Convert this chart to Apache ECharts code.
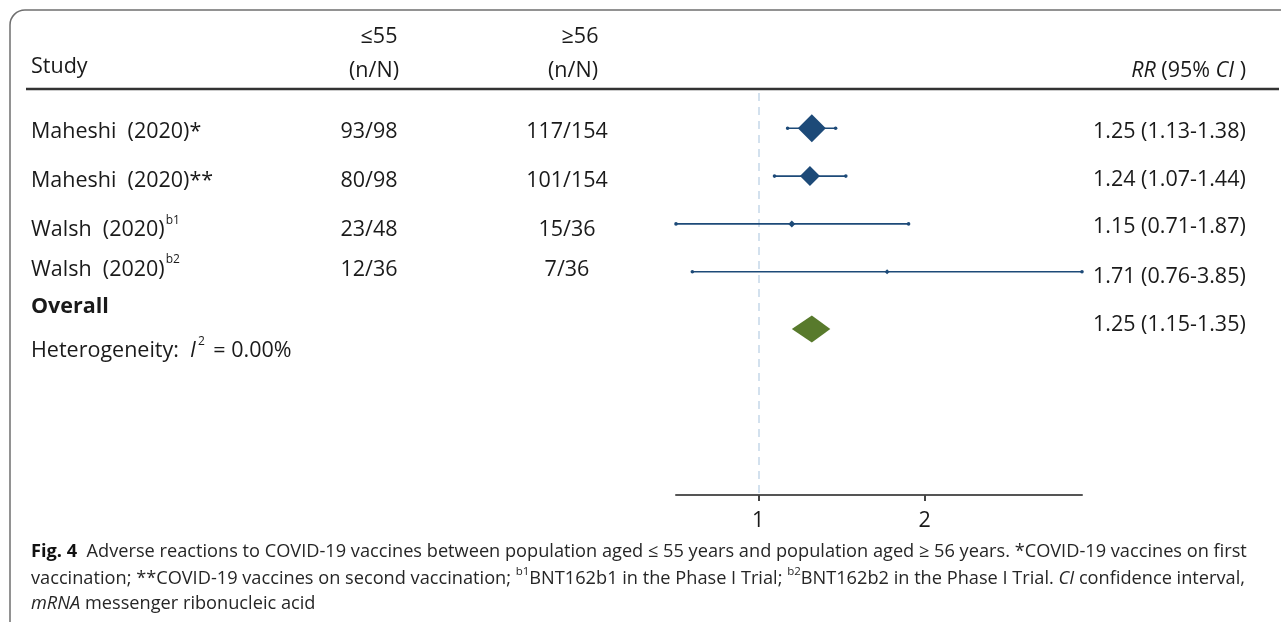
<!DOCTYPE html>
<html>
<head>
<meta charset="utf-8">
<script src="https://cdn.jsdelivr.net/npm/echarts@6/dist/echarts.min.js"></script>
<style>
  html, body { margin: 0; padding: 0; background: #ffffff; }
  #chart { width: 1281px; height: 622px; }
</style>
</head>
<body>
<div id="chart"></div>
<script>
// ---- Data ----
const studyNames = ['Maheshi  (2020)*', 'Maheshi  (2020)**', 'Walsh  (2020){sup|b1}', 'Walsh  (2020){sup|b2}'];
const countsUpTo55 = ['93/98', '80/98', '23/48', '12/36'];
const countsFrom56 = ['117/154', '101/154', '15/36', '7/36'];
const riskRatio = [1.25, 1.24, 1.15, 1.71];
const ciLower = [1.13, 1.07, 0.71, 0.76];
const ciUpper = [1.38, 1.44, 1.87, 3.85];
const overallRR = 1.25;
const overallLower = 1.15;
const overallUpper = 1.35;
const heterogeneityI2 = 0.00;
const axisTickValues = [1, 2];

// ---- Layout / style constants ----
const FONT = '"Open Sans", sans-serif';
const CAPTION_FONT = '"Open Sans", sans-serif';
const FS = 21.5;
const CAPTION_FS = 18.2;
const TEXT = '#1a1a1a';
const CAPTION_TEXT = '#262626';
const BLUE = '#1d4a78';
const GREEN = '#587a2c';
const markerSizes = [28, 20, 7, 5];
const markerRows = [0, 1, 2, 3];
const overallRow = 4.2;
const leftTextRows = [0.08, 1.1, 2.13, 2.96];
const rightTextRows = [0.08, 1.08, 2.06, 3.11];
const overallLabelRow = 3.74;
const overallTextRow = 4.11;
const heteroRow = 4.66;
const COL_STUDY = 31, COL_YOUNG = 369, COL_OLD = 567, COL_RR = 1093;

const fmt = v => v.toFixed(2);

const supRich = { sup: { fontSize: 12, fontFamily: FONT, verticalAlign: 'top', fill: TEXT, padding: [0, 0, 0, 1] } };

function tableText(x, y, text, align, extra) {
  return {
    type: 'text', x: x, y: y,
    style: Object.assign({
      text: text, fontFamily: FONT, fontSize: FS, fill: TEXT, lineHeight: 32,
      align: align, verticalAlign: 'middle', rich: supRich
    }, extra || {})
  };
}

const chart = echarts.init(document.getElementById('chart'), null, { renderer: 'canvas' });

const option = {
  animation: false,
  backgroundColor: '#ffffff',
  grid: { left: 676, right: 199, top: 93, bottom: 127 },
  xAxis: {
    type: 'log',
    logBase: Math.E,
    position: 'bottom',
    min: Math.min.apply(null, ciLower),
    max: Math.max.apply(null, ciUpper),
    splitLine: { show: false },
    axisLine: { onZero: false, lineStyle: { color: '#555555', width: 2 } },
    axisTick: { length: 6, customValues: axisTickValues, lineStyle: { color: '#444444', width: 2 } },
    axisLabel: {
      customValues: axisTickValues, fontSize: FS, fontFamily: FONT, color: TEXT, margin: 15,
      formatter: v => String(Math.round(v))
    }
  },
  yAxis: {
    type: 'value', inverse: true, min: -0.738, max: 7.67, show: false
  },
  series: [
    {
      // confidence interval whiskers with end dots
      type: 'custom',
      name: 'ci',
      clip: false,
      z: 3,
      data: riskRatio.map((v, i) => [ciLower[i], ciUpper[i], markerRows[i]]),
      renderItem: function (params, api) {
        const a = api.coord([api.value(0), api.value(2)]);
        const b = api.coord([api.value(1), api.value(2)]);
        return {
          type: 'group',
          children: [
            { type: 'line', shape: { x1: a[0], y1: a[1], x2: b[0], y2: b[1] }, style: { stroke: BLUE, lineWidth: 1.6 } },
            { type: 'circle', shape: { cx: a[0], cy: a[1], r: 1.8 }, style: { fill: BLUE } },
            { type: 'circle', shape: { cx: b[0], cy: b[1], r: 1.8 }, style: { fill: BLUE } }
          ]
        };
      }
    },
    {
      // point estimates
      type: 'scatter',
      name: 'estimate',
      z: 4,
      symbol: 'diamond',
      symbolSize: (val, params) => markerSizes[params.dataIndex],
      itemStyle: { color: BLUE, opacity: 1 },
      data: riskRatio.map((v, i) => [v, markerRows[i]]),
      markLine: {
        silent: true,
        symbol: 'none',
        z: 1,
        label: { show: false },
        lineStyle: { type: [8, 6], color: '#d3e1ee', width: 2 },
        data: [{ xAxis: 1 }]
      }
    },
    {
      // pooled estimate diamond
      type: 'custom',
      name: 'overall',
      clip: false,
      z: 4,
      data: [[overallLower, overallRR, overallUpper, overallRow]],
      renderItem: function (params, api) {
        const lo = api.coord([api.value(0), api.value(3)]);
        const mid = api.coord([api.value(1), api.value(3)]);
        const hi = api.coord([api.value(2), api.value(3)]);
        const h = 13.5;
        return {
          type: 'polygon',
          shape: { points: [[lo[0], lo[1]], [mid[0], mid[1] - h], [hi[0], hi[1]], [mid[0], mid[1] + h]] },
          style: { fill: GREEN }
        };
      }
    },
    {
      // study table text
      type: 'custom',
      name: 'table',
      clip: false,
      silent: true,
      data: studyNames.map((s, i) => [1, i]),
      renderItem: function (params, api) {
        const i = params.dataIndex;
        const yl = api.coord([1, leftTextRows[i]])[1];
        const yr = api.coord([1, rightTextRows[i]])[1];
        return {
          type: 'group',
          children: [
            tableText(COL_STUDY, yl, studyNames[i], 'left'),
            tableText(COL_YOUNG, yl, countsUpTo55[i], 'center'),
            tableText(COL_OLD, yl, countsFrom56[i], 'center'),
            tableText(COL_RR, yr, fmt(riskRatio[i]) + ' (' + fmt(ciLower[i]) + '-' + fmt(ciUpper[i]) + ')', 'left')
          ]
        };
      }
    },
    {
      // overall and heterogeneity rows
      type: 'custom',
      name: 'summary',
      clip: false,
      silent: true,
      data: [[1, overallRow]],
      renderItem: function (params, api) {
        const yLabel = api.coord([1, overallLabelRow])[1];
        const yText = api.coord([1, overallTextRow])[1];
        const yHet = api.coord([1, heteroRow])[1];
        return {
          type: 'group',
          children: [
            tableText(COL_STUDY, yLabel, 'Overall', 'left', { fontWeight: 'bold' }),
            tableText(COL_RR, yText, fmt(overallRR) + ' (' + fmt(overallLower) + '-' + fmt(overallUpper) + ')', 'left'),
            tableText(COL_STUDY, yHet, 'Heterogeneity:  {it|I}{sup|2} = ' + heterogeneityI2.toFixed(2) + '%', 'left', {
              rich: {
                it: { fontStyle: 'italic', fontSize: FS, fontFamily: FONT, fill: TEXT },
                sup: { fontSize: 12, fontFamily: FONT, verticalAlign: 'top', fill: TEXT, padding: [0, 3, 0, 2] }
              }
            })
          ]
        };
      }
    }
  ],
  graphic: [
    {
      type: 'rect', silent: true, z: 0,
      shape: { x: 10, y: 10, width: 1400, height: 800, r: 15 },
      style: { fill: 'none', stroke: '#6f6f6f', lineWidth: 1.5 }
    },
    {
      type: 'line', silent: true,
      shape: { x1: 26, y1: 89, x2: 1279, y2: 89 },
      style: { stroke: '#333333', lineWidth: 2.5 }
    },
    { type: 'text', x: 31, y: 67, style: { text: 'Study', fontFamily: FONT, fontSize: FS, fill: TEXT, align: 'left', verticalAlign: 'middle' } },
    { type: 'text', x: 379, y: 37, style: { text: '≤55', fontFamily: FONT, fontSize: FS, fill: TEXT, align: 'center', verticalAlign: 'middle' } },
    { type: 'text', x: 374, y: 71, style: { text: '(n/N)', fontFamily: FONT, fontSize: FS, fill: TEXT, align: 'center', verticalAlign: 'middle' } },
    { type: 'text', x: 580, y: 37, style: { text: '≥56', fontFamily: FONT, fontSize: FS, fill: TEXT, align: 'center', verticalAlign: 'middle' } },
    { type: 'text', x: 573, y: 71, style: { text: '(n/N)', fontFamily: FONT, fontSize: FS, fill: TEXT, align: 'center', verticalAlign: 'middle' } },
    {
      type: 'text', x: 1246, y: 71,
      style: {
        text: '{it|RR} (95% {it|CI} )', fontFamily: FONT, fontSize: FS, fill: TEXT, align: 'right', verticalAlign: 'middle',
        rich: { it: { fontStyle: 'italic', fontFamily: FONT, fontSize: FS, fill: TEXT } }
      }
    },
    {
      type: 'text', x: 31, y: 552,
      style: {
        text: '{b|Fig. 4}  Adverse reactions to COVID-19 vaccines between population aged ≤ 55 years and population aged ≥ 56 years. *COVID-19 vaccines on first',
        fontFamily: CAPTION_FONT, fontSize: CAPTION_FS, fill: CAPTION_TEXT, align: 'left', verticalAlign: 'middle',
        rich: { b: { fontWeight: 'bold', fontFamily: CAPTION_FONT, fontSize: CAPTION_FS, fill: '#111111' } }
      }
    },
    {
      type: 'text', x: 31, y: 579,
      style: {
        text: 'vaccination; **COVID-19 vaccines on second vaccination; {sup|b1}BNT162b1 in the Phase I Trial; {sup|b2}BNT162b2 in the Phase I Trial. {it|CI} confidence interval,',
        fontFamily: CAPTION_FONT, fontSize: CAPTION_FS, fill: CAPTION_TEXT, align: 'left', verticalAlign: 'middle', lineHeight: 27,
        rich: {
          sup: { fontSize: 11.5, fontFamily: CAPTION_FONT, verticalAlign: 'top', fill: CAPTION_TEXT },
          it: { fontStyle: 'italic', fontFamily: CAPTION_FONT, fontSize: CAPTION_FS, fill: CAPTION_TEXT }
        }
      }
    },
    {
      type: 'text', x: 31, y: 604,
      style: {
        text: '{it|mRNA} messenger ribonucleic acid',
        fontFamily: CAPTION_FONT, fontSize: CAPTION_FS, fill: CAPTION_TEXT, align: 'left', verticalAlign: 'middle',
        rich: { it: { fontStyle: 'italic', fontFamily: CAPTION_FONT, fontSize: CAPTION_FS, fill: CAPTION_TEXT } }
      }
    }
  ]
};

chart.setOption(option);
</script>
</body>
</html>
